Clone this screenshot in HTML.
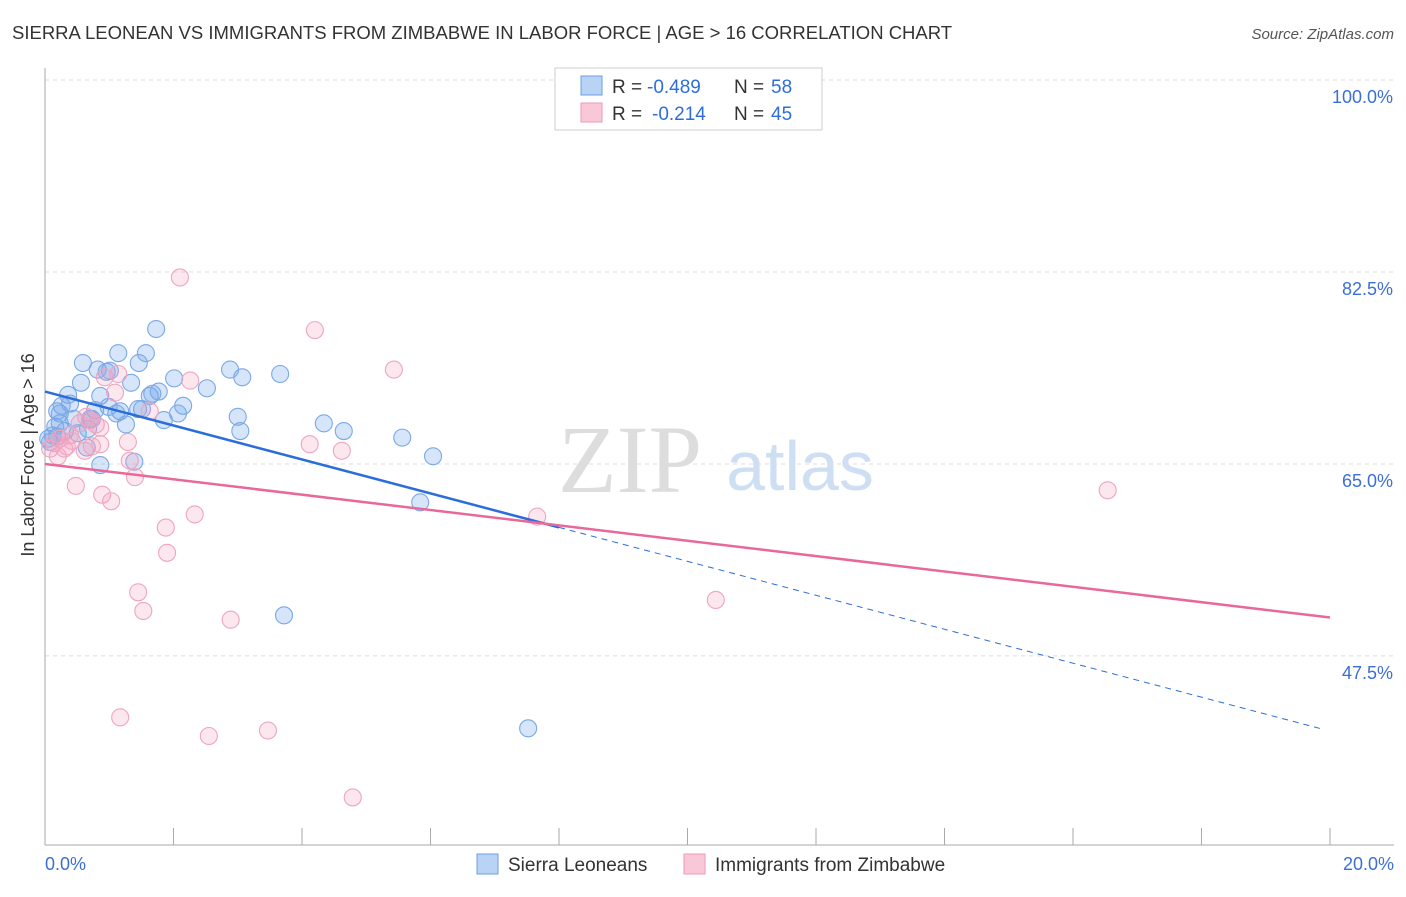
<!DOCTYPE html>
<html><head><meta charset="utf-8"><style>
body{margin:0;background:#fff;font-family:"Liberation Sans",sans-serif;}
</style></head><body>
<svg id="c" width="1406" height="892" xmlns="http://www.w3.org/2000/svg">
<text x="12" y="39" font-size="18.5" fill="#333">SIERRA LEONEAN VS IMMIGRANTS FROM ZIMBABWE IN LABOR FORCE | AGE &gt; 16 CORRELATION CHART</text>
<text x="1394" y="39" font-size="15" fill="#555" font-style="italic" text-anchor="end">Source: ZipAtlas.com</text>
<text x="630" y="492" font-size="96" fill="#ddd" text-anchor="middle" font-family="Liberation Serif,serif">ZIP</text>
<text x="800" y="490" font-size="70" fill="#cfdff3" text-anchor="middle">atlas</text>
<g id="grid"></g><g id="pts"></g><g id="lines"></g>
<text x="34" y="455" font-size="18" fill="#333" text-anchor="middle" transform="rotate(-90 34 455)">In Labor Force | Age &gt; 16</text>
<g>
<rect x="555" y="68" width="267" height="62" fill="#fff" stroke="#ccc"/>
<rect x="581" y="76" width="21" height="19" fill="#b9d3f5" stroke="#6d9ee6"/>
<rect x="581" y="103" width="21" height="19" fill="#f9c8d8" stroke="#ec9ab5"/>
<text x="612" y="93" font-size="19" fill="#333">R =</text>
<text x="647" y="93" font-size="19" fill="#2f6ed8">-0.489</text>
<text x="734" y="93" font-size="19" fill="#333">N =</text>
<text x="771" y="93" font-size="19" fill="#2f6ed8">58</text>
<text x="612" y="120" font-size="19" fill="#333">R =</text>
<text x="652" y="120" font-size="19" fill="#2f6ed8">-0.214</text>
<text x="734" y="120" font-size="19" fill="#333">N =</text>
<text x="771" y="120" font-size="19" fill="#2f6ed8">45</text>
</g>
<g>
<rect x="477" y="854" width="21" height="20" fill="#b9d3f5" stroke="#6d9ee6"/>
<text x="508" y="871" font-size="19" fill="#333">Sierra Leoneans</text>
<rect x="684" y="854" width="21" height="20" fill="#f9c8d8" stroke="#ec9ab5"/>
<text x="715" y="871" font-size="19" fill="#333">Immigrants from Zimbabwe</text>
</g>
</svg>
<script>
const xTicks=[0,2,4,6,8,10,12,14,16,18,20];
const yTicks=[47.5,65.0,82.5,100.0];
const blueX=[1.73,1.14,1.57,0.59,1.46,0.82,0.96,0.56,1.34,0.36,0.86,1.77,1.67,2.01,2.52,2.88,3.07,3.66,0.26,0.99,1.45,1.51,2.15,2.07,0.19,0.45,1.11,1.85,3.0,4.34,4.65,5.56,6.04,3.04,0.23,0.70,1.26,0.51,0.65,0.86,1.39,0.12,0.08,5.84,3.72,7.52,1.01,0.39,0.78,0.16,0.31,0.19,0.23,1.17,1.63,0.67,0.73,0.05];
const blueY=[77.3,75.1,75.1,74.2,74.2,73.6,73.4,72.4,72.4,71.3,71.2,71.6,71.4,72.8,71.9,73.6,72.9,73.2,70.3,70.2,70.0,70.0,70.3,69.6,69.8,69.1,69.6,69.0,69.3,68.7,68.0,67.4,65.7,68.0,68.7,69.1,68.6,67.8,66.5,64.9,65.2,67.6,67.0,61.5,51.2,40.9,73.5,70.5,69.9,68.4,68.0,67.5,69.6,69.8,71.2,68.2,69.1,67.3];
const pinkX=[2.1,4.2,5.43,2.26,1.14,0.93,1.09,1.63,0.70,0.79,1.29,0.86,0.14,0.30,0.34,0.08,1.32,1.40,0.48,0.89,1.03,1.88,2.33,1.90,1.45,1.53,2.89,4.12,4.62,7.66,16.54,10.44,1.17,2.55,3.47,4.79,0.39,0.64,0.73,0.23,0.54,0.20,0.86,0.62,0.42];
const pinkY=[82.0,77.2,73.6,72.6,73.2,72.9,71.5,69.8,69.0,68.6,67.0,66.8,66.9,66.4,66.6,66.4,65.3,63.8,63.0,62.2,61.6,59.2,60.4,56.9,53.3,51.6,50.8,66.8,66.2,60.2,62.6,52.6,41.9,40.2,40.7,34.6,67.6,69.3,66.6,67.3,68.7,65.7,68.3,66.2,67.1];
const blueTrend=[71.6,40.8];
const pinkTrend=[65.0,51.0];
const X=v=>45+v*64.25, Y=v=>80+(100-v)*10.97;
const NS='http://www.w3.org/2000/svg';
function mk(t,a,p){const e=document.createElementNS(NS,t);for(const k in a)e.setAttribute(k,a[k]);p.appendChild(e);return e;}
const grid=document.getElementById('grid');
yTicks.forEach(t=>{const l=mk('line',{x1:45,x2:1394,y1:Y(t),y2:Y(t),stroke:'#ddd','stroke-dasharray':'4,4'},grid);


const tx=mk('text',{x:1393,y:Y(t)+23,'font-size':18,fill:'#3b6fd6','text-anchor':'end'},grid);tx.textContent=t.toFixed(1)+'%';

});
mk('line',{x1:45,x2:45,y1:68,y2:845,stroke:'#aaa'},grid);
mk('line',{x1:45,x2:1394,y1:845,y2:845,stroke:'#aaa'},grid);
xTicks.forEach(t=>{const l=mk('line',{x1:X(t),x2:X(t),y1:828,y2:845,stroke:'#aaa'},grid);

});
[[0,45,'start'],[20,1394,'end']].forEach(([v,x,a])=>{const tx=mk('text',{x:x,y:870,'font-size':18,fill:'#3b6fd6','text-anchor':a},grid);tx.textContent=v.toFixed(1)+'%';

});
const pts=document.getElementById('pts');
blueX.forEach((v,i)=>{const c=mk('circle',{cx:X(v),cy:Y(blueY[i]),r:8.5,fill:'rgba(120,170,235,0.3)',stroke:'#7aa8e6','stroke-width':1.1},pts);

});
pinkX.forEach((v,i)=>{const c=mk('circle',{cx:X(v),cy:Y(pinkY[i]),r:8.5,fill:'rgba(245,160,190,0.25)',stroke:'#eea5be','stroke-width':1.1},pts);

});
const lines=document.getElementById('lines');
const bx=8, by=blueTrend[0]+(blueTrend[1]-blueTrend[0])*bx/19.9;
let l=mk('line',{x1:X(0),y1:Y(blueTrend[0]),x2:X(bx),y2:Y(by),stroke:'#2b6dd9','stroke-width':2.5},lines);


l=mk('line',{x1:X(bx),y1:Y(by),x2:X(19.9),y2:Y(blueTrend[1]),stroke:'#2b6dd9','stroke-width':1,'stroke-dasharray':'6,5'},lines);


l=mk('line',{x1:X(0),y1:Y(pinkTrend[0]),x2:X(20),y2:Y(pinkTrend[1]),stroke:'#e8689a','stroke-width':2.5},lines);


</script>
</body></html>
